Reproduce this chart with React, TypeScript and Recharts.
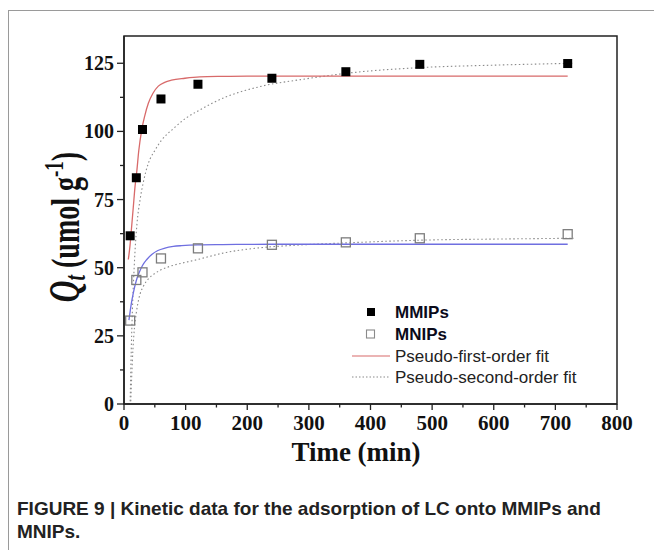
import React from 'react';
import { ComposedChart, Line, Scatter, XAxis, YAxis, ReferenceArea, Label } from 'recharts';

// Experimental data
const times = [10, 20, 30, 60, 120, 240, 360, 480, 720];
const mmipsQt = [61.7, 83.0, 100.7, 111.9, 117.3, 119.5, 121.9, 124.6, 124.9];
const mnipsQt = [30.6, 45.5, 48.3, 53.4, 57.1, 58.4, 59.3, 60.8, 62.3];

// Pseudo-first-order fit curves
const pfoMmipsT = [7, 9.7, 12, 15, 18, 20.6, 24, 28.7, 34, 39.5, 47, 55.7, 66, 77, 99, 123, 160, 200, 300, 720];
const pfoMmipsQ = [53, 58, 64, 72, 80, 85, 93, 100.5, 106, 110.3, 114, 116.6, 118, 118.8, 119.5, 120, 120.2, 120.3, 120.3, 120.3];
const pfoMnipsT = [8, 10, 12, 15, 20, 25, 30, 37, 45, 55, 66.5, 80, 93.5, 120, 160, 240, 720];
const pfoMnipsQ = [30.8, 34, 37, 40.6, 45.3, 48.4, 50.8, 53, 54.8, 56.3, 57.2, 57.8, 58.1, 58.4, 58.5, 58.6, 58.6];

// Pseudo-second-order fit curves
const psoMmipsT = [10, 11, 12.5, 14.5, 16.5, 18, 21, 26, 32, 39.5, 50, 61, 80, 100, 120, 166, 220, 296, 360, 480, 600, 730];
const psoMmipsQ = [1, 12, 26, 40, 50, 56.5, 66, 74.8, 82, 88.3, 93, 96.8, 101, 104.8, 107.5, 112.7, 116.4, 119.3, 121.3, 123.4, 124.3, 125];
const psoMnipsT = [11, 12.5, 14.5, 17, 20, 23, 26, 31, 40, 50, 58, 72, 100, 112, 166, 220, 275, 360, 500, 600, 730];
const psoMnipsQ = [1, 10, 20, 28, 33.5, 37.5, 40.3, 43, 46, 47.9, 49, 50.3, 52, 52.6, 55.6, 57.3, 58.2, 59.1, 60.2, 60.5, 60.8];

// Axis ticks
const xTicks = [0, 50, 100, 150, 200, 250, 300, 350, 400, 450, 500, 550, 600, 650, 700, 750, 800];
const xLabels = [0, 100, 200, 300, 400, 500, 600, 700, 800];
const yTicks = [0, 12.5, 25, 37.5, 50, 62.5, 75, 87.5, 100, 112.5, 125];
const yLabels = [0, 25, 50, 75, 100, 125];

const legendNames = ['MMIPs', 'MNIPs', 'Pseudo-first-order fit', 'Pseudo-second-order fit'];
const captionLines = ['FIGURE 9 | Kinetic data for the adsorption of LC onto MMIPs and', 'MNIPs.'];

const pts = (ts: number[], qs: number[]) => ts.map((t, i) => ({ t, q: qs[i] }));
const mmipsData = pts(times, mmipsQt);
const mnipsData = pts(times, mnipsQt);
const pfoMmips = pts(pfoMmipsT, pfoMmipsQ);
const pfoMnips = pts(pfoMnipsT, pfoMnipsQ);
const psoMmips = pts(psoMmipsT, psoMmipsQ);
const psoMnips = pts(psoMnipsT, psoMnipsQ);

const SERIF = '"Liberation Serif", "Times New Roman", serif';
const SANS = '"Liberation Sans", Arial, sans-serif';
const AX = '#222';
const RED = '#d86a6a';
const BLUE = '#6f6fe0';
const DOT = '#8a8a8a';

const XTick = (props: any) => {
  const { x, y, payload } = props;
  const v = payload.value;
  const major = xLabels.includes(v);
  return (
    <g>
      <line x1={x} x2={x} y1={y} y2={y + (major ? 6 : 3.5)} stroke={AX} strokeWidth={1.3} />
      {major && (
        <text x={x} y={y + 26} textAnchor="middle" fontFamily={SERIF} fontWeight="bold" fontSize={21} fill="#111">
          {v}
        </text>
      )}
    </g>
  );
};

const YTick = (props: any) => {
  const { x, y, payload } = props;
  const v = payload.value;
  const major = yLabels.includes(v);
  return (
    <g>
      <line x1={x - (major ? 7 : 4)} x2={x} y1={y} y2={y} stroke={AX} strokeWidth={1.3} />
      {major && (
        <text x={x - 10} y={y + 7} textAnchor="end" fontFamily={SERIF} fontWeight="bold" fontSize={20} fill="#111">
          {v}
        </text>
      )}
    </g>
  );
};

const FilledSquare = (props: any) => (
  <rect x={props.cx - 4.5} y={props.cy - 4.5} width={9} height={9} fill="#000" />
);
const HollowSquare = (props: any) => (
  <rect x={props.cx - 4.5} y={props.cy - 4.5} width={9} height={9} fill="none" stroke="#7d7d7d" strokeWidth={1.3} />
);

const YTitle = () => (
  <text
    transform="translate(79,227) rotate(-90) scale(1,1.45)"
    textAnchor="middle"
    fontFamily={SERIF}
    fontWeight="bold"
    fill="#111"
  >
    <tspan fontStyle="italic" fontSize={30}>Q</tspan>
    <tspan fontStyle="italic" fontSize={20} dy={4}>t</tspan>
    <tspan fontSize={28} dy={-4}> (umol g</tspan>
    <tspan fontSize={19} dy={-11}>-1</tspan>
    <tspan fontSize={28} dy={11}>)</tspan>
  </text>
);

const XTitle = () => (
  <text x={356} y={461} textAnchor="middle" fontFamily={SERIF} fontWeight="bold" fontSize={27} fill="#111">
    Time (min)
  </text>
);

export default function App() {
  return (
    <div style={{ position: 'absolute', left: 0, top: 0, width: 654, height: 550, background: '#fff', overflow: 'hidden' }}>
      <div style={{ position: 'absolute', left: 8, top: 10, width: 700, height: 600, borderLeft: '1.5px solid #9a9a9a', borderTop: '1.5px solid #9a9a9a' }} />
      <div style={{ position: 'absolute', left: 0, top: 0 }}>
        <ComposedChart width={654} height={500} margin={{ top: 36, right: 37, left: 0, bottom: 0 }}>
          <XAxis
            dataKey="t"
            type="number"
            domain={[0, 800]}
            ticks={xTicks}
            interval={0}
            tickSize={0}
            tickMargin={0}
            tick={<XTick />}
            height={96}
            axisLine={{ stroke: AX, strokeWidth: 1.5 }}
            allowDataOverflow
          >
            <Label content={<XTitle />} />
          </XAxis>
          <YAxis
            type="number"
            domain={[0, 135]}
            ticks={yTicks}
            interval={0}
            tickSize={0}
            tickMargin={0}
            tick={<YTick />}
            width={124}
            axisLine={{ stroke: AX, strokeWidth: 1.5 }}
            allowDataOverflow
          >
            <Label content={<YTitle />} />
          </YAxis>
          <ReferenceArea x1={0} x2={800} y1={0} y2={135} fill="none" fillOpacity={0} stroke={AX} strokeWidth={1.5} ifOverflow="visible" />
          <Line data={psoMmips} dataKey="q" type="monotone" stroke={DOT} strokeWidth={1.1} strokeDasharray="1.5 2.5" dot={false} activeDot={false} isAnimationActive={false} />
          <Line data={psoMnips} dataKey="q" type="monotone" stroke={DOT} strokeWidth={1.1} strokeDasharray="1.5 2.5" dot={false} activeDot={false} isAnimationActive={false} />
          <Line data={pfoMmips} dataKey="q" type="monotone" stroke={RED} strokeWidth={1.3} dot={false} activeDot={false} isAnimationActive={false} />
          <Line data={pfoMnips} dataKey="q" type="monotone" stroke={BLUE} strokeWidth={1.3} dot={false} activeDot={false} isAnimationActive={false} />
          <Scatter data={mmipsData} dataKey="q" shape={<FilledSquare />} isAnimationActive={false} />
          <Scatter data={mnipsData} dataKey="q" shape={<HollowSquare />} isAnimationActive={false} />
        </ComposedChart>
      </div>
      <svg style={{ position: 'absolute', left: 0, top: 0, pointerEvents: 'none' }} width={654} height={550}>
        <rect x={367} y={308} width={8} height={8} fill="#000" />
        <text x={395} y={318} fontFamily={SANS} fontWeight="bold" fontSize={17} fill="#0a0a1a">{legendNames[0]}</text>
        <rect x={366.5} y={330} width={8} height={8} fill="none" stroke="#8a8a8a" strokeWidth={1.1} />
        <text x={395} y={340} fontFamily={SANS} fontWeight="bold" fontSize={17} fill="#0a0a1a">{legendNames[1]}</text>
        <line x1={352} x2={390} y1={356} y2={356} stroke={RED} strokeWidth={1.2} />
        <text x={395} y={362} fontFamily={SANS} fontSize={17} fill="#222">{legendNames[2]}</text>
        <line x1={352} x2={390} y1={377} y2={377} stroke={DOT} strokeWidth={1.1} strokeDasharray="1.5 2" />
        <text x={395} y={383} fontFamily={SANS} fontSize={17} fill="#222">{legendNames[3]}</text>
      </svg>
      <div style={{ position: 'absolute', left: 17, top: 497, fontFamily: SANS, fontWeight: 'bold', fontSize: 19, lineHeight: '23px', color: '#222', whiteSpace: 'nowrap' }}>
        {captionLines[0]}
        <br />
        {captionLines[1]}
      </div>
    </div>
  );
}
